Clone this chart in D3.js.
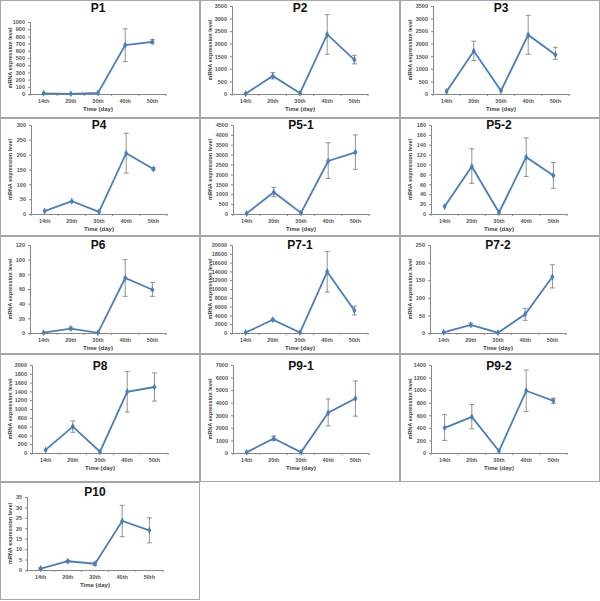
<!DOCTYPE html>
<html><head><meta charset="utf-8">
<script src="https://cdn.jsdelivr.net/npm/d3@7"></script>
<style>body{margin:0;background:#fff}svg{display:block;font-family:"Liberation Sans",Arial,sans-serif}</style>
</head><body><svg id="c" width="600" height="601"></svg>
<script>
const categories = ["14th","20th","30th","40th","50th"];
const panelNames = ["P1","P2","P3","P4","P5-1","P5-2","P6","P7-1","P7-2","P8","P9-1","P9-2","P10"];
const yMaxValues = [1000,3500,3500,300,4500,180,120,20000,250,2000,7000,1400,35];
const yStepValues = [100,500,500,50,500,20,20,2000,50,200,1000,200,5];
const meanValues = [
  [10,2,15,680,725],
  [10,720,30,2370,1360],
  [100,1710,130,2350,1560],
  [10,43,7,205,152],
  [30,1100,50,2680,3120],
  [15,96,3,115,78],
  [0.5,6,0.3,75,59],
  [100,3000,100,13900,5100],
  [2,23,1,53,160],
  [70,600,30,1390,1500],
  [50,1150,60,3200,4330],
  [400,575,30,990,830],
  [0.7,4.2,3,23.5,19]
];
const errLowValues = [
  [10,2,15,450,700],
  [10,600,30,1580,1200],
  [100,1330,130,1580,1380],
  [10,43,7,138,148],
  [30,870,50,1800,2260],
  [15,62,3,76,52],
  [0.5,5,0.3,50,50],
  [100,2800,100,9300,4100],
  [2,20,1,36,128],
  [70,470,30,930,1180],
  [50,1000,60,2150,2930],
  [200,385,30,660,790],
  [0.3,3.8,2.2,16,13]
];
const errHighValues = [
  [10,2,15,905,755],
  [10,850,30,3160,1540],
  [100,2100,130,3130,1860],
  [10,43,7,272,156],
  [30,1350,50,3600,4000],
  [15,132,3,154,104],
  [0.5,8,0.3,100,69],
  [100,3200,100,18500,6100],
  [2,28,1,70,194],
  [70,730,30,1850,1820],
  [50,1350,60,4300,5730],
  [610,770,30,1320,870],
  [1,4.6,3.8,31,25]
];

const svg = d3.select("#c");
const lineColor = "#4a7ebb", grey = "#888";
const colX = [0,200,400];
const rowY = [0,118,236,354,482];
const rowH = [118,118,118,128,118];
const rowTop = [6,7,9,11,15];
const rowBottom = [94,96,97,99,88];
const rowTitle = [12,11,13,16,14];
const axisXs = [30,32,33,31,33,31,30,32,30,32,33,31,27];
const plotW = 136;

// panel borders
panelNames.forEach((name,i)=>{
  const c = i%3, r = Math.floor(i/3);
  svg.append("rect").attr("x",colX[c]+0.5).attr("y",rowY[r]+0.5)
    .attr("width",199).attr("height",rowH[r]-1)
    .attr("fill","none").attr("stroke","#a6a6a6").attr("stroke-width",1);
});

panelNames.forEach((name,i)=>{
  const c = i%3, r = Math.floor(i/3);
  const top = (i===0) ? 22 : rowTop[r];
  const bottom = rowBottom[r];
  const ax = axisXs[i];
  const g = svg.append("g").attr("transform",`translate(${colX[c]},${rowY[r]})`);
  const x = d3.scaleBand().domain(categories).range([ax, ax+plotW]);
  const y = d3.scaleLinear().domain([0,yMaxValues[i]]).range([bottom, top]);
  const ticks = d3.range(0, yMaxValues[i]+yStepValues[i]/2, yStepValues[i]);

  const yAxis = g.append("g").attr("transform",`translate(${ax},0)`)
    .call(d3.axisLeft(y).tickValues(ticks).tickSize(2).tickPadding(3).tickFormat(d3.format("d")));
  yAxis.select(".domain").attr("stroke",grey);
  yAxis.selectAll(".tick line").attr("stroke",grey);
  yAxis.selectAll("text").attr("font-size",5.5).attr("font-weight","bold").attr("fill","#555");

  const xAxis = g.append("g").attr("transform",`translate(0,${bottom})`)
    .call(d3.axisBottom(x).tickSize(0).tickPadding(5));
  xAxis.select(".domain").attr("stroke",grey);
  xAxis.selectAll("text").attr("font-size",5.5).attr("font-weight","bold").attr("fill","#555");
  // boundary tick marks
  g.selectAll(".bt").data(d3.range(6)).join("line")
    .attr("x1",k=>ax+k*x.step()).attr("x2",k=>ax+k*x.step())
    .attr("y1",bottom).attr("y2",bottom+2).attr("stroke",grey);

  g.append("text").attr("x",ax+plotW/2).attr("y",bottom+17).attr("text-anchor","middle")
    .attr("font-size",6).attr("font-weight","bold").attr("fill","#444").text("Time (day)");
  g.append("text").attr("transform",`translate(12,${(top+bottom)/2}) rotate(-90)`)
    .attr("text-anchor","middle").attr("font-size",5.5).attr("font-weight","bold").attr("fill","#444")
    .text("mRNA expression level");
  g.append("text").attr("x",ax+plotW/2).attr("y",rowTitle[r]).attr("text-anchor","middle")
    .attr("font-size",12).attr("font-weight","bold").attr("fill","#111").text(name);

  const pts = categories.map((cat,k)=>({cat, m:meanValues[i][k], lo:errLowValues[i][k], hi:errHighValues[i][k]}));
  const cx = d => x(d.cat)+x.bandwidth()/2;
  // error bars
  const eb = g.selectAll(".eb").data(pts.filter(d=>d.hi-d.lo>0)).join("g");
  eb.append("line").attr("x1",cx).attr("x2",cx).attr("y1",d=>y(d.lo)).attr("y2",d=>y(d.hi)).attr("stroke","#777").attr("stroke-width",0.8);
  eb.append("line").attr("x1",d=>cx(d)-2.5).attr("x2",d=>cx(d)+2.5).attr("y1",d=>y(d.lo)).attr("y2",d=>y(d.lo)).attr("stroke","#777").attr("stroke-width",0.8);
  eb.append("line").attr("x1",d=>cx(d)-2.5).attr("x2",d=>cx(d)+2.5).attr("y1",d=>y(d.hi)).attr("y2",d=>y(d.hi)).attr("stroke","#777").attr("stroke-width",0.8);

  g.append("path").datum(pts).attr("fill","none").attr("stroke",lineColor).attr("stroke-width",1.8)
    .attr("d",d3.line().x(cx).y(d=>y(d.m)));
  g.selectAll(".mk").data(pts).join("path")
    .attr("transform",d=>`translate(${cx(d)},${y(d.m)})`)
    .attr("d",d3.symbol(d3.symbolDiamond,14)).attr("fill",lineColor);
});
</script></body></html>
